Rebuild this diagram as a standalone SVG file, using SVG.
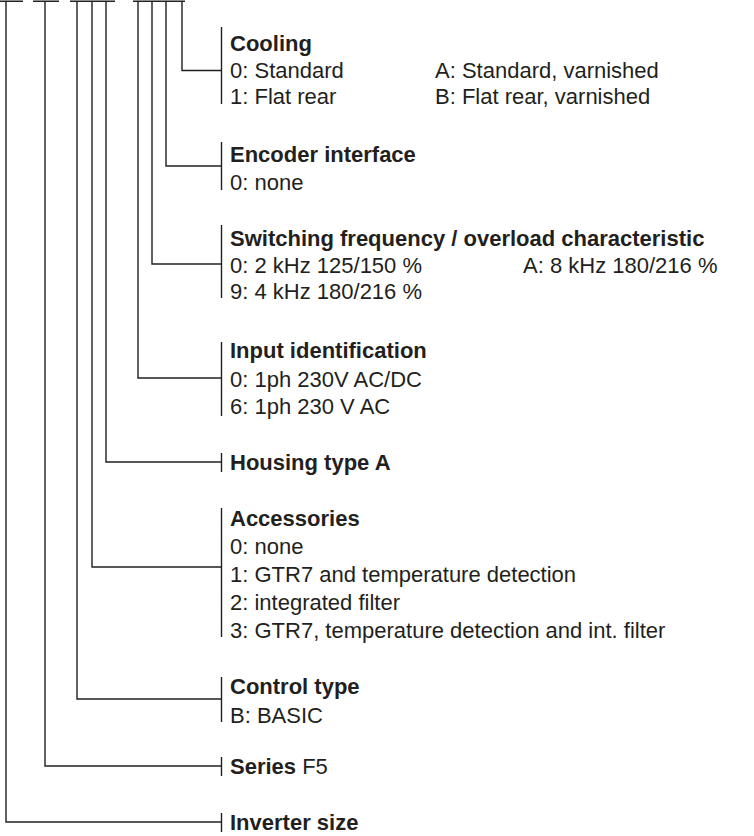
<svg xmlns="http://www.w3.org/2000/svg" width="754" height="836" viewBox="0 0 754 836">
<style>
.ln{fill:none;stroke:#231f20;stroke-width:1.4}
.t{font-family:"Liberation Sans",Arial,Helvetica,sans-serif;font-size:22px;fill:#231f20}
.b{font-weight:bold}
</style>
<rect width="754" height="836" fill="#ffffff"/>
<g id="type-code">
<path class="ln" d="M0 1.2H23 M33 1.2H59 M70 1.2H115 M133 1.2H185"/>
</g>
<g id="connectors">
<path class="ln" d="M182 1V70.5H221.5"/>
<path class="ln" d="M166 1V166H221.5"/>
<path class="ln" d="M152 1V264H221.5"/>
<path class="ln" d="M138 1V378H221.5"/>
<path class="ln" d="M106 1V462H221.5"/>
<path class="ln" d="M92 1V567H221.5"/>
<path class="ln" d="M77 1V699H221.5"/>
<path class="ln" d="M45 1V766H221.5"/>
<path class="ln" d="M6 1V822H221.5"/>
</g>
<g id="cooling">
<path class="ln" d="M221.5 27V104"/>
<text class="t b" x="230" y="51">Cooling</text>
<text class="t" x="230" y="78">0: Standard</text>
<text class="t" x="230" y="104">1: Flat rear</text>
<text class="t" x="435" y="78">A: Standard, varnished</text>
<text class="t" x="435" y="104">B: Flat rear, varnished</text>
</g>
<g id="encoder-interface">
<path class="ln" d="M221.5 142V190"/>
<text class="t b" x="230" y="162">Encoder interface</text>
<text class="t" x="230" y="190">0: none</text>
</g>
<g id="switching-frequency">
<path class="ln" d="M221.5 225V298"/>
<text class="t b" x="230" y="246">Switching frequency / overload characteristic</text>
<text class="t" x="230" y="273">0: 2 kHz 125/150 %</text>
<text class="t" x="523" y="273">A: 8 kHz 180/216 %</text>
<text class="t" x="230" y="299">9: 4 kHz 180/216 %</text>
</g>
<g id="input-identification">
<path class="ln" d="M221.5 342V416"/>
<text class="t b" x="230" y="358">Input identification</text>
<text class="t" x="230" y="387">0: 1ph 230V AC/DC</text>
<text class="t" x="230" y="414">6: 1ph 230 V AC</text>
</g>
<g id="housing-type">
<path class="ln" d="M221.5 453V472"/>
<text class="t b" x="230" y="470">Housing type A</text>
</g>
<g id="accessories">
<path class="ln" d="M221.5 508V637"/>
<text class="t b" x="230" y="526">Accessories</text>
<text class="t" x="230" y="554">0: none</text>
<text class="t" x="230" y="582">1: GTR7 and temperature detection</text>
<text class="t" x="230" y="610">2: integrated filter</text>
<text class="t" x="230" y="638">3: GTR7, temperature detection and int. filter</text>
</g>
<g id="control-type">
<path class="ln" d="M221.5 677V722"/>
<text class="t b" x="230" y="694">Control type</text>
<text class="t" x="230" y="723">B: BASIC</text>
</g>
<g id="series">
<path class="ln" d="M221.5 757V776"/>
<text class="t" x="230" y="774"><tspan class="b">Series</tspan> F5</text>
</g>
<g id="inverter-size">
<path class="ln" d="M221.5 813V832"/>
<text class="t b" x="230" y="830">Inverter size</text>
</g>
</svg>
